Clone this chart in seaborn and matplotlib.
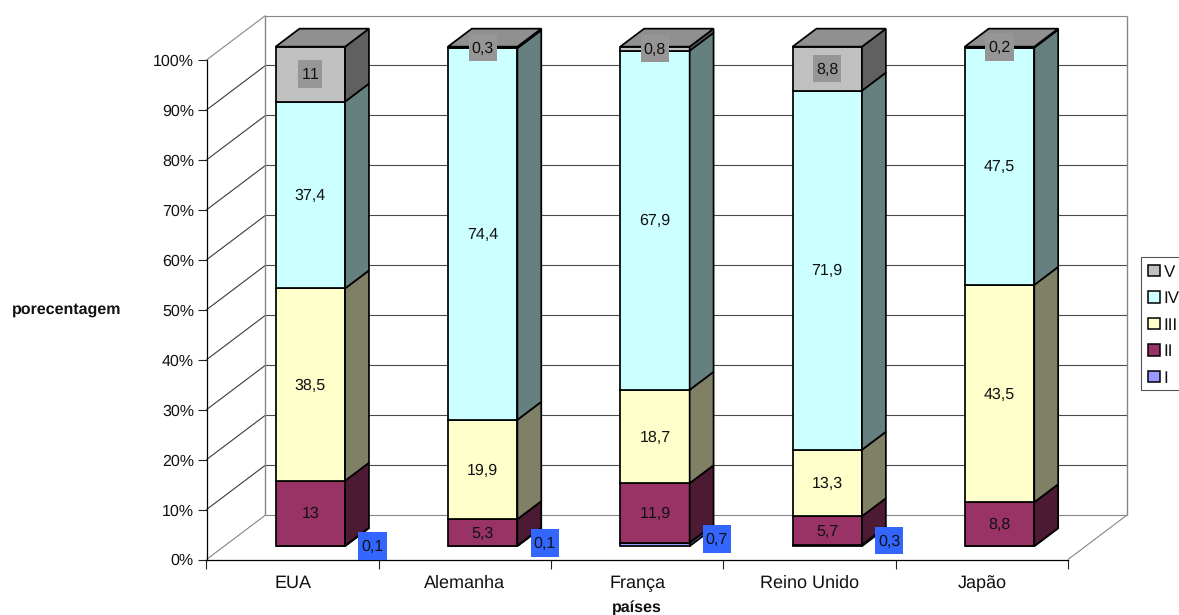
import numpy as np
import pandas as pd
import matplotlib
matplotlib.use("Agg")
import matplotlib.pyplot as plt
from matplotlib.colors import to_rgb
from matplotlib.patches import Patch, Rectangle
from matplotlib.transforms import IdentityTransform
import seaborn as sns

# Percentage share of each class per country
countries = ["EUA", "Alemanha", "França", "Reino Unido", "Japão"]
series_names = ["I", "II", "III", "IV", "V"]
values_i = [0.1, 0.1, 0.7, 0.3, 0.0]
values_ii = [13, 5.3, 11.9, 5.7, 8.8]
values_iii = [38.5, 19.9, 18.7, 13.3, 43.5]
values_iv = [37.4, 74.4, 67.9, 71.9, 47.5]
values_v = [11, 0.3, 0.8, 8.8, 0.2]
y_ticks = list(range(0, 101, 10))

series_colors = ["#9999FF", "#993366", "#FFFFCC", "#CCFFFF", "#C0C0C0"]

sns.set_theme(style="white")
plt.rcParams["font.family"] = ["Liberation Sans", "DejaVu Sans"]
plt.rcParams["font.size"] = 11.5
plt.rcParams["text.hinting"] = "no_hinting"
plt.rcParams["text.hinting_factor"] = 1
plt.rcParams["text.kerning_factor"] = 16

W, H = 1179, 615
fig = plt.figure(figsize=(W / 100, H / 100), dpi=100)
fig.patch.set_facecolor("white")
ax = fig.add_axes([206.5 / W, (H - 559.5) / H, 861.5 / W, 499.5 / H])
ax.set_facecolor("none")

# Oblique projection: depth 0 is the front plane, depth 1 the back wall
WALL_DX, WALL_DY = 0.3424, 8.9
BAR_FRONT, BAR_BACK = 0.30, 0.705
BAR_WIDTH = 0.403
EDGE = 1.25


def project(x, y, depth):
    return x + depth * WALL_DX, y + depth * WALL_DY


def line3d(x, y, depth, color, lw=0.8, zorder=1):
    px, py = project(np.asarray(x, float), np.asarray(y, float), np.asarray(depth, float))
    ax.plot(px, py, color=color, lw=lw, zorder=zorder, clip_on=False, solid_capstyle="butt")


x_lo, x_hi = -0.5, 4.5
wall_grey = "#868686"
for tick in y_ticks:
    is_edge = tick in (0, 100)
    grid_color = wall_grey if is_edge else "#3a3a3a"
    line3d([x_lo, x_lo], [tick, tick], [0, 1], grid_color)
    line3d([x_lo, x_hi], [tick, tick], [1, 1], wall_grey if is_edge else "#4a4a4a")
line3d([x_lo, x_lo], [0, 100], [1, 1], wall_grey, lw=1.0)
line3d([x_hi, x_hi], [0, 100], [1, 1], wall_grey, lw=1.0)
line3d([x_hi, x_hi], [0, 0], [0, 1], wall_grey)


def shade(color, factor):
    return tuple(c * factor for c in to_rgb(color))


stack = np.array([values_i, values_ii, values_iii, values_iv, values_v], dtype=float)
bottoms = np.vstack([np.zeros(stack.shape[1]), np.cumsum(stack, axis=0)[:-1]])
positions = np.arange(len(countries))
front_x, lift = project(positions.astype(float), 0.0, BAR_FRONT)

for name, heights, base, color in zip(series_names, stack, bottoms, series_colors):
    frame = pd.DataFrame({"pos": front_x, "share": heights})
    sns.barplot(
        data=frame, x="pos", y="share", native_scale=True, width=BAR_WIDTH,
        color=color, saturation=1, errorbar=None, bottom=base + lift,
        edgecolor="black", linewidth=EDGE, zorder=3, ax=ax, clip_on=False,
    )
    # Right-hand side face of every segment
    for pos, h, b in zip(positions, heights, base):
        xr = pos + BAR_WIDTH / 2
        corners = [(xr, b, BAR_FRONT), (xr, b, BAR_BACK), (xr, b + h, BAR_BACK), (xr, b + h, BAR_FRONT)]
        pts = [project(*c) for c in corners]
        ax.fill(*zip(*pts), facecolor=shade(color, 0.5), edgecolor="black",
                linewidth=EDGE, zorder=3, clip_on=False)

# Top face of each column, tinted with the uppermost series
totals = stack.sum(axis=0)
for pos, total in zip(positions, totals):
    xl, xr = pos - BAR_WIDTH / 2, pos + BAR_WIDTH / 2
    corners = [(xl, total, BAR_FRONT), (xr, total, BAR_FRONT), (xr, total, BAR_BACK), (xl, total, BAR_BACK)]
    pts = [project(*c) for c in corners]
    ax.fill(*zip(*pts), facecolor=shade(series_colors[-1], 0.75), edgecolor="black",
            linewidth=EDGE, zorder=3, clip_on=False)

# Axes limits first, so label chips can be sized in display space
ax.set_xlim(x_lo, x_hi)
ax.set_ylim(0, 100)

# Value labels; series I sits beside the column, series V on a grey chip
label_box = {"I": "#3366FF", "V": "#969696"}
i_label_shift = 0.36
i_label_raise = [0.0, 0.6, 1.1, 1.0, 0.0]
CHIP_PAD_X, CHIP_HEIGHT = 3.0, 27.5
renderer = fig.canvas.get_renderer()
for s, name in enumerate(series_names):
    for c, pos in enumerate(positions):
        v = stack[s, c]
        if v == 0:
            continue
        lx, ly = project(pos, bottoms[s, c] + v / 2, BAR_FRONT)
        if name == "I":
            lx += i_label_shift
            ly += i_label_raise[c]
        t = ax.annotate(f"{v:g}".replace(".", ","), (lx, ly), xytext=(0, -0.7),
                        textcoords="offset points", ha="center", va="center",
                        fontsize=11.5, color="#111111", zorder=6, annotation_clip=False)
        if name in label_box:
            ext = t.get_window_extent(renderer)
            cy = ax.transData.transform((lx, ly))[1]
            chip = Rectangle((ext.x0 - CHIP_PAD_X, cy - CHIP_HEIGHT / 2),
                             ext.width + 2 * CHIP_PAD_X, CHIP_HEIGHT,
                             transform=IdentityTransform(), facecolor=label_box[name],
                             edgecolor="none", zorder=5, clip_on=False)
            ax.add_patch(chip)

# Axes, ticks and captions
ax.set_yticks(y_ticks)
ax.set_yticklabels([f"{t}%" for t in y_ticks])
ax.set_xticks(np.arange(len(countries) + 1) - 0.5)
ax.set_xticklabels([])
ax.set_xticks(positions, minor=True)
ax.set_xticklabels(countries, minor=True)
ax.tick_params(axis="x", which="major", length=6.5, width=0.8, color="#222222", bottom=True)
ax.tick_params(axis="x", which="minor", length=0, pad=11, labelsize=13, colors="#111111", bottom=True)
ax.tick_params(axis="y", length=6.5, width=0.8, pad=2.5, labelsize=11.5, left=True,
               color="#222222", labelcolor="#111111")
for side in ("top", "right"):
    ax.spines[side].set_visible(False)
for side in ("left", "bottom"):
    ax.spines[side].set_color("black")
    ax.spines[side].set_linewidth(0.9)
    ax.spines[side].set_zorder(2.5)

ax.set_xlabel("países", fontweight="bold", fontsize=11.6, color="#111111")
ax.xaxis.set_label_coords(0.5, -0.0835)
ax.set_ylabel("porecentagem", fontweight="bold", fontsize=11.6, rotation=0, color="#111111",
              ha="center", va="center")
ax.yaxis.set_label_coords(-0.1625, 0.5)

# Legend entries, with the frame running off the right-hand edge of the figure
handles = [Patch(facecolor=c, edgecolor="black", linewidth=1.1, label=n)
           for n, c in zip(series_names[::-1], series_colors[::-1])]
legend = ax.legend(
    handles=handles, loc="upper left", bbox_to_anchor=(1141 / W, (H - 257) / H),
    bbox_transform=fig.transFigure, frameon=False, borderaxespad=0, borderpad=0.42,
    handlelength=0.66, handleheight=0.66, handletextpad=0.24, labelspacing=0.615,
    fontsize=12.5,
)
legend.set_zorder(7)
for txt in legend.get_texts():
    txt.set_color("#111111")
fig.add_artist(Rectangle((1141 / W, (H - 390) / H), 60 / W, 133 / H, transform=fig.transFigure,
                         facecolor="none", edgecolor="#555555", linewidth=0.8))

fig.savefig("out.png", dpi=100, facecolor="white")
